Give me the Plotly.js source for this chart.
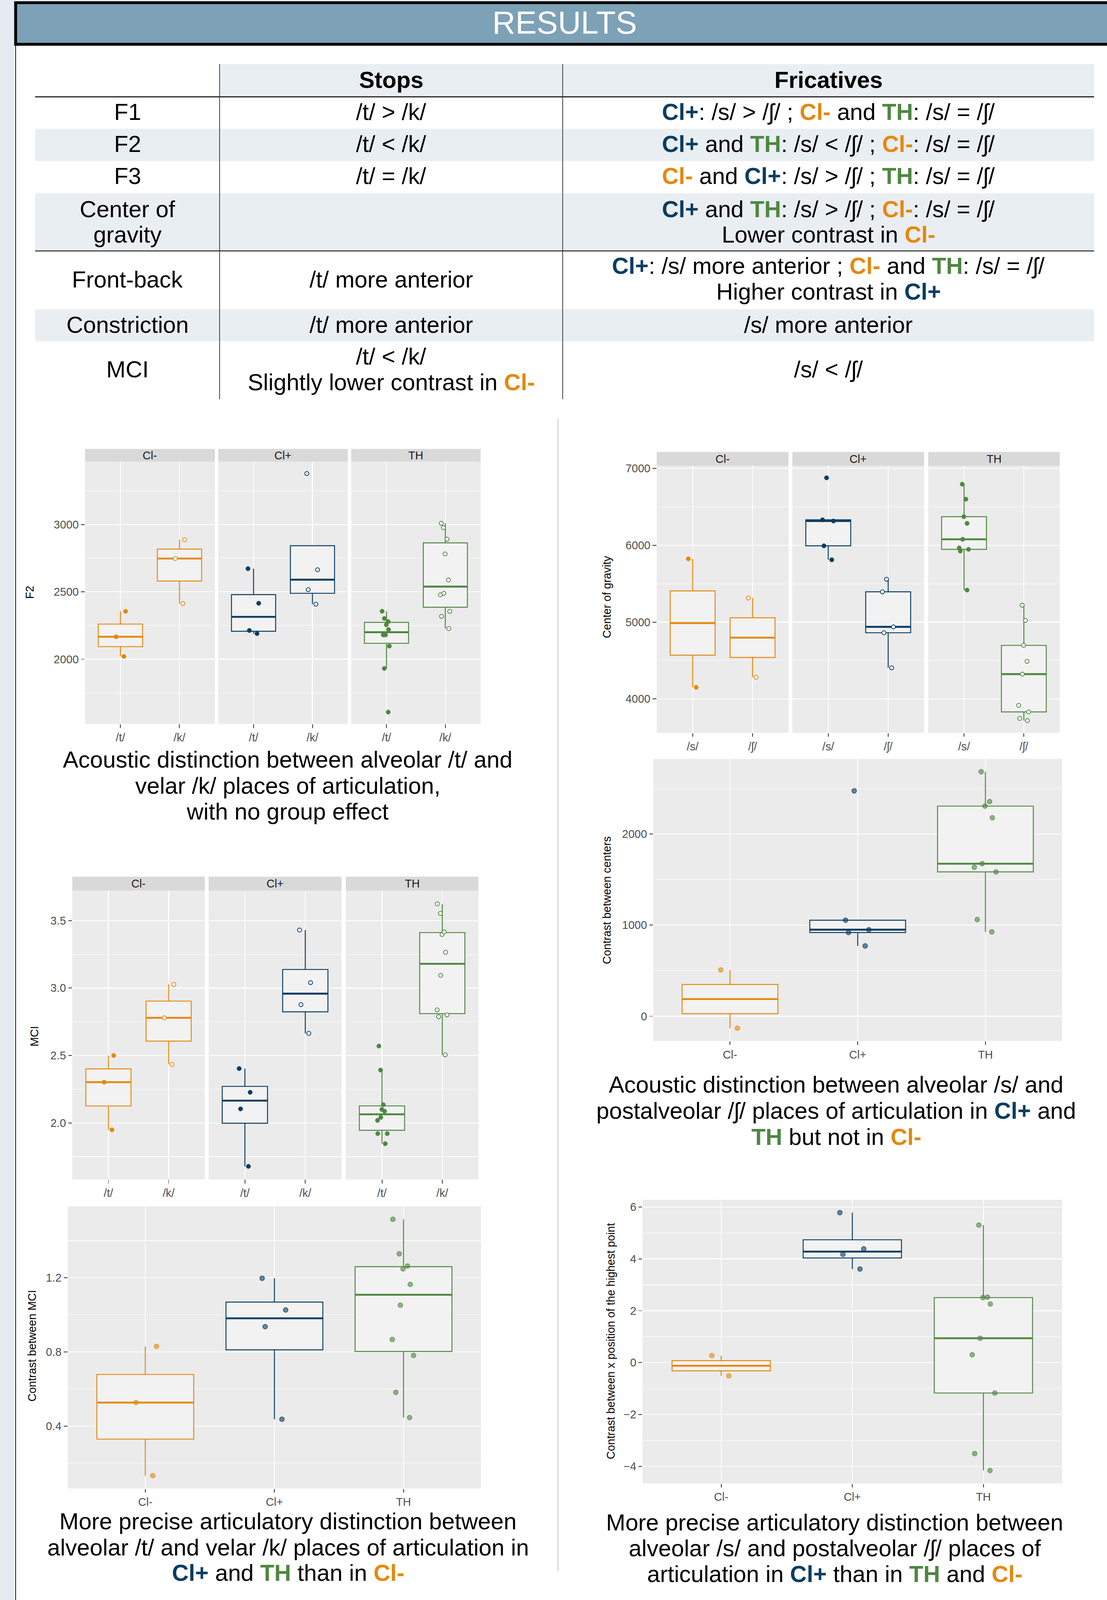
<!DOCTYPE html>
<html><head><meta charset="utf-8">
<script src="https://cdn.plot.ly/plotly-3.0.1.min.js"></script>
<style>html,body{margin:0;padding:0;background:#fff;overflow:hidden}#chart{width:2833px}</style>
</head><body><div id="chart"></div>
<script>
// ---------------- DATA ----------------
const groupLabels = ['Cl-', 'Cl+', 'TH'];
const stopLabels = ['/t/', '/k/'];
const fricLabels = ['/s/', '/ʃ/'];

// F2 (Hz) per group, /t/ and /k/
const f2_clm_t = [2355, 2166, 2020];
const f2_clm_k = [2887, 2747, 2413];
const f2_clp_t = [2672, 2415, 2213, 2190];
const f2_clp_k = [3378, 2664, 2516, 2408];
const f2_th_t  = [2356, 2302, 2279, 2255, 2220, 2180, 2180, 2097, 1931, 1607];
const f2_th_k  = [3009, 2976, 2891, 2781, 2588, 2489, 2478, 2355, 2318, 2227];

// Center of gravity per group, /s/ and /ʃ/
const cog_clm_s  = [5824, 4151];
const cog_clm_sh = [5314, 4282];
const cog_clp_s  = [6878, 6331, 6316, 5993, 5811];
const cog_clp_sh = [5558, 5394, 4938, 4861, 4405];
const cog_th_s   = [6795, 6600, 6372, 6285, 6078, 5965, 5947, 5924, 5417];
const cog_th_sh  = [5220, 5022, 4697, 4489, 4323, 3916, 3831, 3746, 3718];

// Contrast between centers of gravity
const ctr_clm = [508, -132];
const ctr_clp = [2472, 1053, 949, 918, 771];
const ctr_th  = [2682, 2355, 2305, 2177, 1673, 1634, 1583, 1060, 925];

// MCI per group, /t/ and /k/
const mci_clm_t = [2.500, 2.302, 1.949];
const mci_clm_k = [3.027, 2.779, 2.434];
const mci_clp_t = [2.403, 2.227, 2.104, 1.678];
const mci_clp_k = [3.430, 3.040, 2.877, 2.664];
const mci_th_t  = [2.570, 2.392, 2.135, 2.100, 2.087, 2.041, 2.019, 1.921, 1.921, 1.846];
const mci_th_k  = [3.624, 3.553, 3.416, 3.397, 3.265, 3.094, 2.838, 2.801, 2.788, 2.505];

// Contrast between MCI
const cmci_clm = [0.830, 0.527, 0.133];
const cmci_clp = [1.197, 1.026, 0.936, 0.437];
const cmci_th  = [1.515, 1.329, 1.263, 1.248, 1.164, 1.052, 0.867, 0.781, 0.582, 0.446];

// Contrast between x position of the highest point
const cx_clm = [0.272, -0.512];
const cx_clp = [5.78, 4.384, 4.174, 3.608];
const cx_th  = [5.299, 2.522, 2.506, 2.258, 0.939, 0.303, -1.171, -3.507, -4.158];

// ---------------- STYLE / LAYOUT ----------------
const W = 2833, H = 4769;                       // reference page size
const HV = Math.min(H, window.innerHeight > 0 ? window.innerHeight : H);  // visible height
document.getElementById('chart').style.height = HV + 'px';
const S = Math.sqrt(HV / H);                    // size factor for fonts / strokes
const FONT = '"Liberation Sans", Arial, Helvetica, sans-serif';
const COLORS = {'Cl-': '#E3890F', 'Cl+': '#0A3D62', 'TH': '#4E8741'};
const px = x => x / W;
const py = y => 1 - y / H;
const z = v => v * S;

function q7(a, p) {
  const s = a.slice().sort((u, v) => u - v);
  const h = (s.length - 1) * p, lo = Math.floor(h), hi = Math.min(lo + 1, s.length - 1);
  return s[lo] + (h - lo) * (s[hi] - s[lo]);
}
function boxStats(a) {
  const q1 = q7(a, 0.25), md = q7(a, 0.5), q3 = q7(a, 0.75), iqr = q3 - q1;
  const inl = a.filter(v => v >= q1 - 1.5 * iqr && v <= q3 + 1.5 * iqr);
  return {q1, md, q3, lo: Math.min(...inl), hi: Math.max(...inl)};
}
function rgba(hex, a) {
  const n = parseInt(hex.slice(1), 16);
  return `rgba(${(n >> 16) & 255},${(n >> 8) & 255},${n & 255},${a})`;
}

const traces = [];
function addBox(xa, ya, pos, vals, color, style) {
  const s = boxStats(vals);
  const common = {type: 'box', xaxis: xa, yaxis: ya, width: 0.75, whiskerwidth: 0,
                  hoverinfo: 'skip', showlegend: false};
  traces.push(Object.assign({}, common, {x: [pos], q1: [s.q1], median: [s.md], q3: [s.q3],
    lowerfence: [s.lo], upperfence: [s.hi], boxpoints: false,
    line: {color: color, width: z(2.6)}, fillcolor: '#F2F2F2'}));
  traces.push(Object.assign({}, common, {x: [pos], q1: [s.md], median: [s.md], q3: [s.md],
    lowerfence: [s.md], upperfence: [s.md], boxpoints: false,
    line: {color: color, width: z(5.2)}, fillcolor: 'rgba(0,0,0,0)'}));
  let marker;
  if (style === 'filled') marker = {color: color, size: z(12), line: {color: color, width: z(1)}};
  else if (style === 'open') marker = {color: '#FFFFFF', size: z(11), line: {color: color, width: z(2.2)}};
  else marker = {color: rgba(color, 0.6), size: z(13), line: {color: rgba(color, 0.85), width: z(1.6)}};
  traces.push(Object.assign({}, common, {x: vals.map(() => pos), y: vals, boxpoints: 'all',
    jitter: 0.3, pointpos: 0, line: {color: 'rgba(0,0,0,0)', width: 0},
    fillcolor: 'rgba(0,0,0,0)', marker: marker}));
}

const layout = {
  width: W, height: HV, margin: {l: 0, r: 0, t: 0, b: 0},
  paper_bgcolor: '#FFFFFF', plot_bgcolor: '#EBEBEB',
  showlegend: false, boxmode: 'overlay',
  font: {family: FONT, color: '#000'},
  shapes: [], annotations: []
};

const AX = 31;
function xAxis(x0, x1, anchor, ticktext) {
  const n = ticktext.length;
  return {domain: [px(x0), px(x1)], anchor: anchor, range: [0.4, n + 0.6],
    tickvals: ticktext.map((_, i) => i + 1), ticktext: ticktext,
    showgrid: true, gridcolor: '#FFFFFF', gridwidth: z(2.4), zeroline: false, showline: false,
    ticks: 'outside', ticklen: z(10), tickwidth: z(2), tickcolor: '#333333', ticklabelstandoff: -z(6),
    tickfont: {family: FONT, size: z(AX), color: '#4D4D4D'}, fixedrange: true};
}
function yAxis(y0, y1, anchor, allVals, dtick, minor, fmt) {
  const mn = Math.min(...allVals), mx = Math.max(...allVals), pad = 0.05 * (mx - mn);
  return {domain: [py(y1), py(y0)], anchor: anchor, range: [mn - pad, mx + pad],
    tick0: 0, dtick: dtick, tickformat: fmt,
    showgrid: true, gridcolor: '#FFFFFF', gridwidth: z(2.4), zeroline: false, showline: false,
    minor: {tick0: 0, dtick: minor, showgrid: true, gridcolor: '#FFFFFF', gridwidth: z(1.2)},
    ticks: 'outside', ticklen: z(10), tickwidth: z(2), tickcolor: '#333333',
    tickfont: {family: FONT, size: z(AX), color: '#4D4D4D'}, fixedrange: true};
}
function rect(x0, y0, x1, y1, fill, line, lw, layer) {
  layout.shapes.push({type: 'rect', xref: 'paper', yref: 'paper',
    x0: px(x0), x1: px(x1), y0: py(y1), y1: py(y0),
    fillcolor: fill, line: {color: line || 'rgba(0,0,0,0)', width: lw ? z(lw) : 0}, layer: layer || 'below'});
}
function hline(x0, x1, y, color, w) {
  layout.shapes.push({type: 'line', xref: 'paper', yref: 'paper', x0: px(x0), x1: px(x1),
    y0: py(y), y1: py(y), line: {color: color, width: z(w)}});
}
function vline(x, y0, y1, color, w) {
  layout.shapes.push({type: 'line', xref: 'paper', yref: 'paper', x0: px(x), x1: px(x),
    y0: py(y0), y1: py(y1), line: {color: color, width: z(w)}});
}
function ann(x, y, text, size, extra, color) {
  layout.annotations.push(Object.assign({xref: 'paper', yref: 'paper', x: px(x), y: py(y),
    text: text, showarrow: false, xanchor: 'center', yanchor: 'middle',
    font: {family: FONT, size: z(size), color: color || '#000000'}}, extra || {}));
}
const cc = (t, g) => `<b><span style="color:${COLORS[g]}">${t}</span></b>`;

// ---------------- PAGE DECOR ----------------
rect(0, 0, 36, H, '#E5EBF0');
rect(0, 0, W, 4, '#E5EBF0');
vline(40, 136, H, '#000000', 2);
rect(40, 8, W + 20, 132, '#7DA1B6', '#000000', 8, 'above');
ann(1445, 67, 'RESULTS', 88, {}, '#FFFFFF');

// ---------------- TABLE ----------------
rect(562, 191, 2800, 288, '#E9EEF2');
rect(90, 384, 2800, 480, '#E9EEF2');
rect(90, 576, 2800, 748, '#E9EEF2');
rect(90, 922, 2800, 1017, '#E9EEF2');
hline(90, 2800, 288.5, '#111111', 3);
hline(90, 2800, 748, '#111111', 2.5);
vline(562, 191, 1190, '#333333', 2);
vline(1440, 191, 1190, '#333333', 2);

const TS = 64, C1 = 326, C2 = 1001, C3 = 2120;
ann(C2, 238, '<b>Stops</b>', TS);
ann(C3, 238, '<b>Fricatives</b>', TS);
ann(C1, 333.5, 'F1', TS);
ann(C1, 429, 'F2', TS);
ann(C1, 525, 'F3', TS);
ann(C1, 623, 'Center of', TS);
ann(C1, 699, 'gravity', TS);
ann(C1, 833, 'Front-back', TS);
ann(C1, 968.5, 'Constriction', TS);
ann(C1, 1101, 'MCI', TS);

ann(C2, 333.5, '/t/ &gt; /k/', TS);
ann(C2, 429, '/t/ &lt; /k/', TS);
ann(C2, 525, '/t/ = /k/', TS);
ann(C2, 833, '/t/ more anterior', TS);
ann(C2, 968.5, '/t/ more anterior', TS);
ann(C2, 1062, '/t/ &lt; /k/', TS);
ann(C2, 1139, 'Slightly lower contrast in ' + cc('Cl-', 'Cl-'), TS);

ann(C3, 333.5, cc('Cl+', 'Cl+') + ': /s/ &gt; /ʃ/ ; ' + cc('Cl-', 'Cl-') + ' and ' + cc('TH', 'TH') + ': /s/ = /ʃ/', TS);
ann(C3, 429, cc('Cl+', 'Cl+') + ' and ' + cc('TH', 'TH') + ': /s/ &lt; /ʃ/ ; ' + cc('Cl-', 'Cl-') + ': /s/ = /ʃ/', TS);
ann(C3, 525, cc('Cl-', 'Cl-') + ' and ' + cc('Cl+', 'Cl+') + ': /s/ &gt; /ʃ/ ; ' + cc('TH', 'TH') + ': /s/ = /ʃ/', TS);
ann(C3, 623, cc('Cl+', 'Cl+') + ' and ' + cc('TH', 'TH') + ': /s/ &gt; /ʃ/ ; ' + cc('Cl-', 'Cl-') + ': /s/ = /ʃ/', TS);
ann(C3, 699, 'Lower contrast in ' + cc('Cl-', 'Cl-'), TS);
ann(C3, 792.5, cc('Cl+', 'Cl+') + ': /s/ more anterior ; ' + cc('Cl-', 'Cl-') + ' and ' + cc('TH', 'TH') + ': /s/ = /ʃ/', TS);
ann(C3, 869, 'Higher contrast in ' + cc('Cl+', 'Cl+'), TS);
ann(C3, 968.5, '/s/ more anterior', TS);
ann(C3, 1101, '/s/ &lt; /ʃ/', TS);

// divider between the two halves
vline(1428, 1248, 4683, '#BDBDBD', 2);

// ---------------- PLOTS ----------------
function strip(x0, x1, y0, y1, label) {
  rect(x0, y0, x1, y1, '#D9D9D9');
  ann((x0 + x1) / 2, (y0 + y1) / 2, label, AX, {}, '#1A1A1A');
}
function ytitle(x, y, text) {
  ann(x, y, text, AX, {textangle: -90});
}

// F2 faceted plot
const f2Data = [[f2_clm_t, f2_clm_k], [f2_clp_t, f2_clp_k], [f2_th_t, f2_th_k]];
const f2Panels = [[217.5, 550], [558.5, 890], [898.8, 1230]];
const f2X = ['x', 'x2', 'x3'];
f2Panels.forEach((p, i) => {
  layout[i === 0 ? 'xaxis' : 'xaxis' + (i + 1)] = xAxis(p[0], p[1], 'y', stopLabels);
  strip(p[0], p[1], 1338, 1376, groupLabels[i]);
  f2Data[i].forEach((vals, j) => addBox(f2X[i], 'y', j + 1, vals, COLORS[groupLabels[i]], j === 0 ? 'filled' : 'open'));
});
layout.yaxis = yAxis(1376, 2158, 'x', [].concat(...f2Data.flat()), 500, 250, 'd');
ytitle(76, 1765, 'F2');

// Center of gravity faceted plot
const cogData = [[cog_clm_s, cog_clm_sh], [cog_clp_s, cog_clp_sh], [cog_th_s, cog_th_sh]];
const cogPanels = [[1680.6, 2018], [2027.6, 2365], [2375.4, 2712]];
cogPanels.forEach((p, i) => {
  const id = 4 + i;
  layout['xaxis' + id] = xAxis(p[0], p[1], 'y2', fricLabels);
  strip(p[0], p[1], 1347, 1388, groupLabels[i]);
  cogData[i].forEach((vals, j) => addBox('x' + id, 'y2', j + 1, vals, COLORS[groupLabels[i]], j === 0 ? 'filled' : 'open'));
});
layout.yaxis2 = yAxis(1388, 2184, 'x4', [].concat(...cogData.flat()), 1000, 500, 'd');
ytitle(1553, 1780, 'Center of gravity');

// Contrast between centers
const ctrData = [ctr_clm, ctr_clp, ctr_th];
layout.xaxis7 = xAxis(1672, 2718, 'y3', groupLabels);
ctrData.forEach((vals, i) => addBox('x7', 'y3', i + 1, vals, COLORS[groupLabels[i]], 'alpha'));
layout.yaxis3 = yAxis(2262, 3103, 'x7', [].concat(...ctrData), 1000, 500, 'd');
ytitle(1553, 2684, 'Contrast between centers');

// MCI faceted plot
const mciData = [[mci_clm_t, mci_clm_k], [mci_clp_t, mci_clp_k], [mci_th_t, mci_th_k]];
const mciPanels = [[185, 524], [534, 874], [885, 1224.5]];
mciPanels.forEach((p, i) => {
  const id = 8 + i;
  layout['xaxis' + id] = xAxis(p[0], p[1], 'y4', stopLabels);
  strip(p[0], p[1], 2613, 2655, groupLabels[i]);
  mciData[i].forEach((vals, j) => addBox('x' + id, 'y4', j + 1, vals, COLORS[groupLabels[i]], j === 0 ? 'filled' : 'open'));
});
layout.yaxis4 = yAxis(2655, 3515.6, 'x8', [].concat(...mciData.flat()), 0.5, 0.25, '.1f');
ytitle(88, 3089, 'MCI');

// Contrast between MCI
const cmciData = [cmci_clm, cmci_clp, cmci_th];
layout.xaxis11 = xAxis(173.5, 1231, 'y5', groupLabels);
cmciData.forEach((vals, i) => addBox('x11', 'y5', i + 1, vals, COLORS[groupLabels[i]], 'alpha'));
layout.yaxis5 = yAxis(3596, 4436.6, 'x11', [].concat(...cmciData), 0.4, 0.2, '.1f');
ytitle(82, 4011, 'Contrast between MCI');

// Contrast between x position of the highest point
const cxData = [cx_clm, cx_clp, cx_th];
layout.xaxis12 = xAxis(1644.4, 2718, 'y6', groupLabels);
cxData.forEach((vals, i) => addBox('x12', 'y6', i + 1, vals, COLORS[groupLabels[i]], 'alpha'));
layout.yaxis6 = yAxis(3576, 4421.5, 'x12', [].concat(...cxData), 2, 1, 'd');
ytitle(1563, 3998, 'Contrast between x position of the highest point');

// ---------------- CAPTIONS ----------------
const CS = 64;
ann(736, 2264, 'Acoustic distinction between alveolar /t/ and', CS);
ann(736, 2342, 'velar /k/ places of articulation,', CS);
ann(736, 2419, 'with no group effect', CS);

ann(2140, 3233, 'Acoustic distinction between alveolar /s/ and', CS);
ann(2140, 3311, 'postalveolar /ʃ/ places of articulation in ' + cc('Cl+', 'Cl+') + ' and', CS);
ann(2140, 3389, cc('TH', 'TH') + ' but not in ' + cc('Cl-', 'Cl-'), CS);

ann(737, 4534, 'More precise articulatory distinction between', CS);
ann(737, 4612, 'alveolar /t/ and velar /k/ places of articulation in', CS);
ann(737, 4688, cc('Cl+', 'Cl+') + ' and ' + cc('TH', 'TH') + ' than in ' + cc('Cl-', 'Cl-'), CS);

ann(2136, 4538, 'More precise articulatory distinction between', CS);
ann(2136, 4615, 'alveolar /s/ and postalveolar /ʃ/ places of', CS);
ann(2136, 4692, 'articulation in ' + cc('Cl+', 'Cl+') + ' than in ' + cc('TH', 'TH') + ' and ' + cc('Cl-', 'Cl-'), CS);

Plotly.newPlot('chart', traces, layout, {staticPlot: true, displayModeBar: false});
</script>
</body></html>
